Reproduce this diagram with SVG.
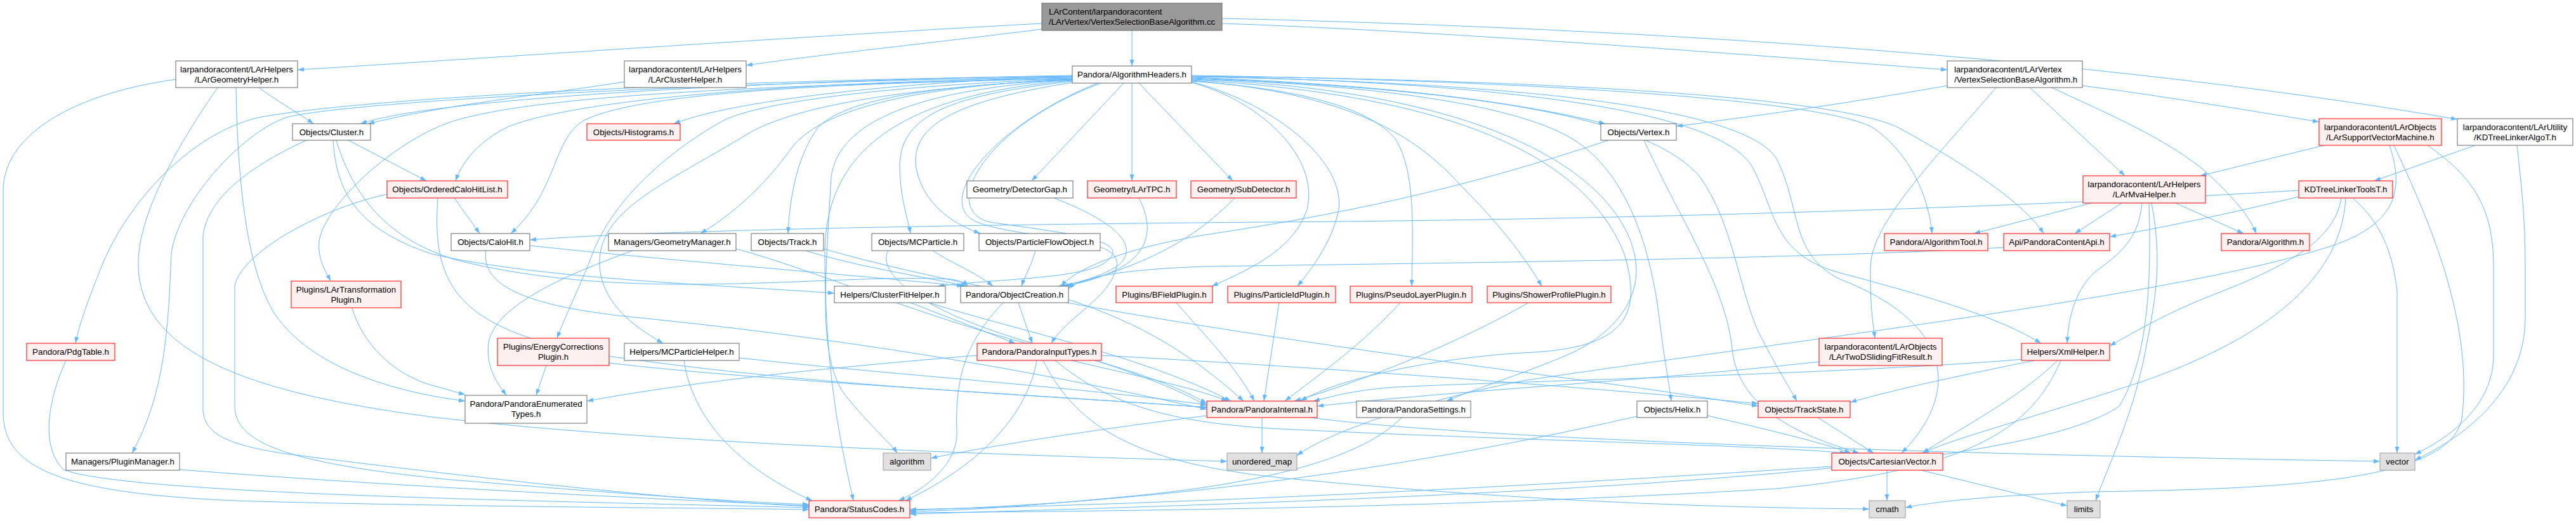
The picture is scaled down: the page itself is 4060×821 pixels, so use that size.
<svg xmlns="http://www.w3.org/2000/svg" width="4060" height="821" viewBox="0 0 4060 821">
<defs>
<marker id="a" markerWidth="10" markerHeight="7" refX="10" refY="3.5" orient="auto" markerUnits="userSpaceOnUse"><path d="M0,0 L10,3.5 L0,7 z" fill="#63b8ff"/></marker>
</defs>
<style>
.e{fill:none;stroke:#63b8ff;stroke-width:1;marker-end:url(#a)}
.w{fill:#ffffff;stroke:#666666;stroke-width:1}
.r{fill:#fff0f0;stroke:#ff0000;stroke-width:1}
.s{fill:#e0e0e0;stroke:#999999;stroke-width:1}
.c{fill:#999999;stroke:#666666;stroke-width:1}
text{font-family:"Liberation Sans",Arial,sans-serif;font-size:13.33px;fill:#000;text-anchor:middle}
text.l{text-anchor:start}
</style>
<rect width="4060" height="821" fill="#ffffff"/>
<g id="edges">
<path class="e" d="M1784,48 L1784,104"/>
<path class="e" d="M1642,37 C1300,55 700,96 469,110"/>
<path class="e" d="M1642,46 C1450,70 1300,85 1176,103"/>
<path class="e" d="M1926,37 C2300,50 2800,90 3069,110"/>
<path class="e" d="M1926,29 C2600,45 3300,90 3873,188"/>
<path class="e" d="M408,138 C430,155 470,178 494,195"/>
<path class="e" d="M372,138 C375,300 390,420 430,490 C480,570 600,615 733,632"/>
<path class="e" d="M343,138 C300,200 215,330 218,420 C222,560 400,620 680,657 C1000,695 1500,715 1934,727"/>
<path class="e" d="M277,125 C100,150 5,220 5,300 L5,650 C5,740 100,780 400,790 C800,800 1100,800 1275,803"/>
<path class="e" d="M984,129 C850,150 700,165 580,195"/>
<path class="e" d="M1690,119 C1300,125 700,150 568,195"/>
<path class="e" d="M1690,120 C1400,130 1150,160 1062,195"/>
<path class="e" d="M1690,122 C1200,130 900,160 800,200 C760,220 730,250 718,285"/>
<path class="e" d="M1690,124 C1250,132 1000,150 920,190 C870,220 880,300 805,368"/>
<path class="e" d="M1690,125 C1450,135 1300,170 1250,230 C1200,300 1150,340 1104,368"/>
<path class="e" d="M1690,126 C1450,135 1330,160 1290,200 C1260,240 1245,300 1242,368"/>
<path class="e" d="M1690,128 C1500,150 1420,180 1418,260 C1418,310 1430,340 1435,368"/>
<path class="e" d="M1690,130 C1500,160 1430,200 1445,270 C1460,330 1510,355 1545,368"/>
<path class="e" d="M1690,120 C1200,125 600,150 408,185 C300,210 200,320 160,420 C140,470 125,510 119,541"/>
<path class="e" d="M1690,121 C1100,130 550,160 451,185 C380,210 280,320 270,400 C265,520 260,620 208,714"/>
<path class="e" d="M1690,123 C1200,135 800,150 690,200 C600,240 510,330 503,380 C500,410 515,430 521,443"/>
<path class="e" d="M1690,124 C1400,135 1200,160 1140,190 C1050,240 960,320 930,410 C910,460 890,500 878,533"/>
<path class="e" d="M1690,125 C1400,140 1250,170 1180,210 C1050,290 940,330 945,420 C950,480 1000,515 1045,541"/>
<path class="e" d="M1735,131 C1550,200 1480,330 1560,350 C1700,370 1790,380 1740,415 C1700,440 1560,440 1478,451"/>
<path class="e" d="M1730,131 C1560,200 1470,320 1540,350 C1620,380 1770,370 1760,420 C1750,470 1680,500 1657,541"/>
<path class="e" d="M1690,126 C1450,140 1320,190 1310,280 C1300,450 1290,560 1330,620 C1370,670 1405,700 1414,714"/>
<path class="e" d="M1690,127 C1400,150 1300,250 1300,400 C1300,600 1330,720 1345,789"/>
<path class="e" d="M1771,131 L1626,285"/>
<path class="e" d="M1784,131 L1784,285"/>
<path class="e" d="M1795,131 L1943,285"/>
<path class="e" d="M1878,122 C2100,130 2350,150 2530,195"/>
<path class="e" d="M1878,119 C2300,125 2850,150 2950,200 C3010,240 3040,310 3045,368"/>
<path class="e" d="M1878,120 C2400,125 2880,150 2990,200 C3100,260 3190,320 3221,368"/>
<path class="e" d="M1878,129 C2000,160 2120,250 2110,330 C2100,380 2070,420 2045,451"/>
<path class="e" d="M1878,128 C2050,140 2160,170 2200,220 C2230,270 2227,350 2225,451"/>
<path class="e" d="M1878,127 C2100,145 2220,200 2300,290 C2360,350 2400,400 2430,451"/>
<path class="e" d="M1878,130 C1990,160 2080,250 2060,330 C2040,390 1980,420 1910,451"/>
<path class="e" d="M1878,126 C2300,150 2500,250 2560,400 C2590,500 2560,550 2400,556 C2250,565 2100,600 2050,632"/>
<path class="e" d="M1878,125 C2300,140 2520,250 2570,380 C2600,460 2550,520 2480,555 C2400,590 2330,610 2280,632"/>
<path class="e" d="M1878,124 C2200,135 2400,170 2480,220 C2560,270 2600,380 2615,500 C2622,560 2630,600 2634,632"/>
<path class="e" d="M1878,123 C2300,140 2600,180 2680,280 C2730,350 2740,450 2770,520 C2800,580 2820,610 2832,632"/>
<path class="e" d="M1878,121 C2400,130 2750,170 2800,250 C2840,330 2820,400 2900,440 C3080,510 3090,620 2997,714"/>
<path class="e" d="M1878,120 C2350,130 2700,170 2760,260 C2800,330 2790,400 2900,430 C3050,470 3150,500 3217,541"/>
<path class="e" d="M3069,135 C2900,165 2750,185 2642,199"/>
<path class="e" d="M3199,138 L3349,277"/>
<path class="e" d="M3234,138 C3300,170 3400,210 3470,265 C3520,310 3545,340 3556,368"/>
<path class="e" d="M3282,135 C3400,150 3550,175 3655,192"/>
<path class="e" d="M3146,138 C3050,250 2950,350 2948,420 C2947,480 2952,510 2955,533"/>
<path class="e" d="M3663,229 L3468,277"/>
<path class="e" d="M3766,229 C3790,300 3780,360 3650,395 C3400,470 2800,540 2400,600 C2200,640 2080,690 2044,718"/>
<path class="e" d="M3773,229 C3820,330 3900,500 3880,660 C3860,760 3600,770 3300,775 C3150,780 3050,790 3003,800"/>
<path class="e" d="M3826,229 C3900,280 3930,330 3930,420 L3930,560 C3930,640 3860,690 3806,716"/>
<path class="e" d="M3901,229 L3742,285"/>
<path class="e" d="M3967,229 C3975,300 3980,350 3980,420 L3980,500 C3980,620 3880,690 3806,725"/>
<path class="e" d="M549,221 L672,285"/>
<path class="e" d="M483,221 C420,250 330,300 320,370 L320,640 C318,680 350,700 450,715 C800,760 1100,790 1275,798"/>
<path class="e" d="M525,221 C530,300 560,360 680,400 C850,440 1150,450 1315,462"/>
<path class="e" d="M530,221 C560,320 620,380 720,410 C1000,480 1300,430 1500,440 C1515,443 1522,447 1526,451"/>
<path class="e" d="M2535,221 C2300,300 2100,340 1900,370 C1780,390 1700,420 1672,451"/>
<path class="e" d="M2591,221 C2650,350 2720,450 2730,550 C2740,650 2850,690 2930,714"/>
<path class="e" d="M3296,320 L3111,368"/>
<path class="e" d="M3344,320 L3270,368"/>
<path class="e" d="M3429,320 L3536,368"/>
<path class="e" d="M3376,320 C3370,380 3340,400 3300,430 C3270,460 3260,500 3258,541"/>
<path class="e" d="M3387,320 C3390,420 3390,560 3340,640 C3200,740 2500,780 1434,810"/>
<path class="e" d="M3391,320 C3410,420 3395,480 3380,560 C3360,660 3320,740 3303,789"/>
<path class="e" d="M716,312 L756,368"/>
<path class="e" d="M610,306 C500,330 380,400 370,450 L370,640 C370,700 460,730 700,755 C1000,780 1150,790 1275,795"/>
<path class="e" d="M690,312 C680,450 720,520 950,560 C1300,610 1600,620 1902,642"/>
<path class="e" d="M1661,312 C1760,350 1800,390 1760,420 C1730,438 1700,445 1668,451"/>
<path class="e" d="M1795,312 C1820,360 1810,400 1760,425 C1730,440 1700,447 1674,451"/>
<path class="e" d="M1946,312 C1880,380 1800,420 1680,451"/>
<path class="e" d="M3623,300 C3300,320 2700,345 2000,350 C1400,355 1000,365 835,378"/>
<path class="e" d="M3623,310 C3500,340 3400,360 3325,373"/>
<path class="e" d="M3690,312 C3680,380 3600,420 3500,460 C3420,490 3370,520 3325,545"/>
<path class="e" d="M3697,312 C3690,450 3550,540 3380,600 C3200,660 3080,690 3030,714"/>
<path class="e" d="M3708,312 C3740,340 3770,380 3778,460 L3778,714"/>
<path class="e" d="M835,387 C1000,405 1300,430 1460,445 C1490,448 1505,449 1518,451"/>
<path class="e" d="M766,395 C760,440 800,480 1000,500 C1400,540 1700,600 1902,645"/>
<path class="e" d="M997,395 C900,430 780,480 770,540 C765,580 785,605 798,623"/>
<path class="e" d="M1160,392 C1300,430 1500,520 1700,560 C1800,590 1860,610 1902,636"/>
<path class="e" d="M1270,395 C1350,420 1450,435 1524,451"/>
<path class="e" d="M1298,392 C1600,480 2200,560 2500,600 C2650,620 2720,632 2771,640"/>
<path class="e" d="M1470,395 C1500,415 1540,430 1565,451"/>
<path class="e" d="M1400,395 C1380,430 1450,500 1700,560 C1800,590 1870,620 1902,640"/>
<path class="e" d="M1632,395 C1625,420 1615,435 1610,451"/>
<path class="e" d="M3158,390 C2800,410 2200,415 1900,420 C1750,425 1700,440 1684,455"/>
<path class="e" d="M555,485 C570,540 620,590 680,607 C700,612 715,617 733,622"/>
<path class="e" d="M1435,477 L1600,541"/>
<path class="e" d="M1464,477 C1600,520 1800,560 1940,632"/>
<path class="e" d="M1605,477 L1627,541"/>
<path class="e" d="M1581,477 C1520,540 1505,600 1508,680 C1510,730 1460,770 1416,789"/>
<path class="e" d="M1684,472 C1800,510 1880,560 1960,632"/>
<path class="e" d="M1854,477 C1900,530 1950,580 1977,632"/>
<path class="e" d="M2016,477 L1992,632"/>
<path class="e" d="M2207,477 C2150,540 2080,590 2025,632"/>
<path class="e" d="M2409,477 C2300,540 2150,600 2040,632"/>
<path class="e" d="M861,576 L845,623"/>
<path class="e" d="M960,572 C1200,600 1600,620 1902,642"/>
<path class="e" d="M2867,570 C2600,600 2300,615 2076,640"/>
<path class="e" d="M104,568 C80,620 60,700 100,740 C200,780 900,790 1275,800"/>
<path class="e" d="M1165,564 C1400,590 1700,610 1902,638"/>
<path class="e" d="M1078,568 C1090,650 1150,730 1280,789"/>
<path class="e" d="M1540,560 C1300,580 1100,600 925,632"/>
<path class="e" d="M1634,568 C1620,650 1550,730 1427,789"/>
<path class="e" d="M1689,568 C1780,590 1880,610 1935,632"/>
<path class="e" d="M1736,560 C2100,580 2500,610 2771,636"/>
<path class="e" d="M1663,568 C1750,640 1850,665 2000,675 C2400,695 2750,700 2910,714"/>
<path class="e" d="M1644,568 C1700,680 1800,730 2020,753 C2400,790 2700,800 2946,802"/>
<path class="e" d="M3243,568 C3180,630 3080,680 3030,714"/>
<path class="e" d="M3206,568 C3100,590 3000,610 2916,634"/>
<path class="e" d="M3248,568 C3200,680 3100,740 2800,770 C2300,800 1800,805 1434,808"/>
<path class="e" d="M3190,566 C2900,590 2400,600 2200,610 C2130,615 2100,625 2070,632"/>
<path class="e" d="M1902,655 C1700,680 1550,705 1467,722"/>
<path class="e" d="M1989,658 L1989,714"/>
<path class="e" d="M2066,658 C2300,690 3000,715 3751,727"/>
<path class="e" d="M2209,658 C2150,720 2000,760 1800,780 C1600,800 1500,805 1434,806"/>
<path class="e" d="M2580,656 C2300,720 1900,790 1434,804"/>
<path class="e" d="M2691,655 C2800,680 2880,700 2917,714"/>
<path class="e" d="M2865,658 L2953,714"/>
<path class="e" d="M283,740 C600,765 1000,785 1275,797"/>
<path class="e" d="M2974,741 L2974,789"/>
<path class="e" d="M3028,741 L3258,797"/>
<path class="e" d="M2887,735 C2500,760 2000,790 1434,803"/>
</g>
<g id="title"><rect class="c" x="1642" y="5" width="284" height="43"/><text class="l" x="1653" y="23">LArContent/larpandoracontent</text><text class="l" x="1653" y="39">/LArVertex/VertexSelectionBaseAlgorithm.cc</text></g>
<g id="LArGeometryHelper"><rect class="w" x="277" y="96" width="192" height="42"/><text x="373" y="114">larpandoracontent/LArHelpers</text><text x="373" y="130">/LArGeometryHelper.h</text></g>
<g id="LArClusterHelper"><rect class="w" x="984" y="96" width="192" height="42"/><text x="1080" y="114">larpandoracontent/LArHelpers</text><text x="1080" y="130">/LArClusterHelper.h</text></g>
<g id="AlgorithmHeaders"><rect class="w" x="1690" y="104" width="188" height="27"/><text x="1784" y="122">Pandora/AlgorithmHeaders.h</text></g>
<g id="VertexSelectionBaseAlgorithm"><rect class="w" x="3069" y="96" width="213" height="42"/><text class="l" x="3080" y="114">larpandoracontent/LArVertex</text><text class="l" x="3080" y="130">/VertexSelectionBaseAlgorithm.h</text></g>
<g id="LArSupportVectorMachine"><rect class="r" x="3655" y="187" width="193" height="42"/><text x="3751.5" y="205">larpandoracontent/LArObjects</text><text x="3751.5" y="221">/LArSupportVectorMachine.h</text></g>
<g id="KDTreeLinkerAlgoT"><rect class="w" x="3873" y="187" width="182" height="42"/><text x="3964" y="205">larpandoracontent/LArUtility</text><text x="3964" y="221">/KDTreeLinkerAlgoT.h</text></g>
<g id="Cluster"><rect class="w" x="461" y="195" width="123" height="26"/><text x="522.5" y="213">Objects/Cluster.h</text></g>
<g id="Histograms"><rect class="r" x="925" y="195" width="147" height="26"/><text x="998.5" y="213">Objects/Histograms.h</text></g>
<g id="Vertex"><rect class="w" x="2523" y="195" width="119" height="26"/><text x="2582.5" y="213">Objects/Vertex.h</text></g>
<g id="LArMvaHelper"><rect class="r" x="3283" y="277" width="193" height="43"/><text x="3379.5" y="295">larpandoracontent/LArHelpers</text><text x="3379.5" y="311">/LArMvaHelper.h</text></g>
<g id="OrderedCaloHitList"><rect class="r" x="610" y="285" width="190" height="27"/><text x="705" y="303">Objects/OrderedCaloHitList.h</text></g>
<g id="DetectorGap"><rect class="w" x="1524" y="285" width="167" height="27"/><text x="1607.5" y="303">Geometry/DetectorGap.h</text></g>
<g id="LArTPC"><rect class="r" x="1714" y="285" width="140" height="27"/><text x="1784" y="303">Geometry/LArTPC.h</text></g>
<g id="SubDetector"><rect class="r" x="1877" y="285" width="166" height="27"/><text x="1960" y="303">Geometry/SubDetector.h</text></g>
<g id="KDTreeLinkerToolsT"><rect class="r" x="3623" y="285" width="148" height="27"/><text x="3697" y="303">KDTreeLinkerToolsT.h</text></g>
<g id="CaloHit"><rect class="w" x="711" y="368" width="124" height="27"/><text x="773" y="386">Objects/CaloHit.h</text></g>
<g id="GeometryManager"><rect class="w" x="959" y="368" width="201" height="27"/><text x="1059.5" y="386">Managers/GeometryManager.h</text></g>
<g id="Track"><rect class="w" x="1184" y="368" width="114" height="27"/><text x="1241" y="386">Objects/Track.h</text></g>
<g id="MCParticle"><rect class="w" x="1374" y="368" width="145" height="27"/><text x="1446.5" y="386">Objects/MCParticle.h</text></g>
<g id="ParticleFlowObject"><rect class="w" x="1543" y="368" width="191" height="27"/><text x="1638.5" y="386">Objects/ParticleFlowObject.h</text></g>
<g id="AlgorithmTool"><rect class="r" x="2970" y="368" width="163" height="27"/><text x="3051.5" y="386">Pandora/AlgorithmTool.h</text></g>
<g id="PandoraContentApi"><rect class="r" x="3158" y="368" width="167" height="27"/><text x="3241.5" y="386">Api/PandoraContentApi.h</text></g>
<g id="Algorithm"><rect class="r" x="3501" y="368" width="139" height="27"/><text x="3570.5" y="386">Pandora/Algorithm.h</text></g>
<g id="LArTransformationPlugin"><rect class="r" x="459" y="443" width="173" height="42"/><text x="545.5" y="461">Plugins/LArTransformation</text><text x="545.5" y="477">Plugin.h</text></g>
<g id="ClusterFitHelper"><rect class="w" x="1315" y="451" width="175" height="26"/><text x="1402.5" y="469">Helpers/ClusterFitHelper.h</text></g>
<g id="ObjectCreation"><rect class="w" x="1514" y="451" width="170" height="26"/><text x="1599" y="469">Pandora/ObjectCreation.h</text></g>
<g id="BFieldPlugin"><rect class="r" x="1759" y="451" width="152" height="26"/><text x="1835" y="469">Plugins/BFieldPlugin.h</text></g>
<g id="ParticleIdPlugin"><rect class="r" x="1935" y="451" width="170" height="26"/><text x="2020" y="469">Plugins/ParticleIdPlugin.h</text></g>
<g id="PseudoLayerPlugin"><rect class="r" x="2128" y="451" width="192" height="26"/><text x="2224" y="469">Plugins/PseudoLayerPlugin.h</text></g>
<g id="ShowerProfilePlugin"><rect class="r" x="2344" y="451" width="195" height="26"/><text x="2441.5" y="469">Plugins/ShowerProfilePlugin.h</text></g>
<g id="EnergyCorrectionsPlugin"><rect class="r" x="784" y="533" width="176" height="43"/><text x="872" y="551">Plugins/EnergyCorrections</text><text x="872" y="567">Plugin.h</text></g>
<g id="LArTwoDSlidingFitResult"><rect class="r" x="2867" y="533" width="194" height="43"/><text x="2964" y="551">larpandoracontent/LArObjects</text><text x="2964" y="567">/LArTwoDSlidingFitResult.h</text></g>
<g id="PdgTable"><rect class="r" x="42" y="541" width="139" height="27"/><text x="111.5" y="559">Pandora/PdgTable.h</text></g>
<g id="MCParticleHelper"><rect class="w" x="984" y="541" width="181" height="27"/><text x="1074.5" y="559">Helpers/MCParticleHelper.h</text></g>
<g id="PandoraInputTypes"><rect class="r" x="1540" y="541" width="196" height="27"/><text x="1638" y="559">Pandora/PandoraInputTypes.h</text></g>
<g id="XmlHelper"><rect class="r" x="3186" y="541" width="139" height="27"/><text x="3255.5" y="559">Helpers/XmlHelper.h</text></g>
<g id="PandoraEnumeratedTypes"><rect class="w" x="733" y="623" width="192" height="44"/><text x="829" y="641">Pandora/PandoraEnumerated</text><text x="829" y="657">Types.h</text></g>
<g id="PandoraInternal"><rect class="r" x="1902" y="632" width="174" height="26"/><text x="1989" y="650">Pandora/PandoraInternal.h</text></g>
<g id="PandoraSettings"><rect class="w" x="2138" y="632" width="180" height="26"/><text x="2228" y="650">Pandora/PandoraSettings.h</text></g>
<g id="Helix"><rect class="w" x="2580" y="632" width="111" height="26"/><text x="2635.5" y="650">Objects/Helix.h</text></g>
<g id="TrackState"><rect class="r" x="2771" y="632" width="145" height="26"/><text x="2843.5" y="650">Objects/TrackState.h</text></g>
<g id="PluginManager"><rect class="w" x="104" y="714" width="179" height="27"/><text x="193.5" y="732">Managers/PluginManager.h</text></g>
<g id="std-algorithm"><rect class="s" x="1392" y="714" width="75" height="27"/><text x="1429.5" y="732">algorithm</text></g>
<g id="std-unordered_map"><rect class="s" x="1934" y="714" width="110" height="27"/><text x="1989" y="732">unordered_map</text></g>
<g id="CartesianVector"><rect class="r" x="2887" y="714" width="175" height="27"/><text x="2974.5" y="732">Objects/CartesianVector.h</text></g>
<g id="std-vector"><rect class="s" x="3751" y="714" width="55" height="27"/><text x="3778.5" y="732">vector</text></g>
<g id="StatusCodes"><rect class="r" x="1275" y="789" width="159" height="27"/><text x="1354.5" y="807">Pandora/StatusCodes.h</text></g>
<g id="std-cmath"><rect class="s" x="2946" y="789" width="57" height="27"/><text x="2974.5" y="807">cmath</text></g>
<g id="std-limits"><rect class="s" x="3258" y="789" width="52" height="27"/><text x="3284" y="807">limits</text></g>
</svg>
